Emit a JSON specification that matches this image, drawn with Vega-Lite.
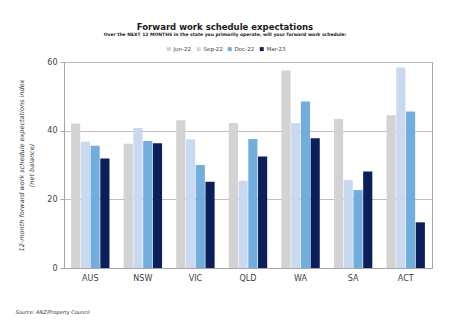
{
  "$schema": "https://vega.github.io/schema/vega-lite/v6.json",
  "width": 368,
  "height": 206,
  "autosize": {"type": "none"},
  "padding": {"left": 64, "top": 62, "right": 18, "bottom": 60},
  "background": "white",
  "title": {
    "text": "Forward work schedule expectations",
    "subtitle": "Over the NEXT 12 MONTHS in the state you primarily operate, will your forward work schedule:",
    "anchor": "middle",
    "dx": -23,
    "offset": 10,
    "font": "DejaVu Sans",
    "fontSize": 8.5,
    "fontWeight": "bold",
    "color": "#1a1a1a",
    "subtitleFont": "DejaVu Sans",
    "subtitleFontSize": 4.5,
    "subtitleFontWeight": "bold",
    "subtitleColor": "#1a1a1a",
    "subtitlePadding": 0
  },
  "data": {
    "values": [
      {"state": "AUS", "period": "Jun-22", "value": 42.1},
      {"state": "AUS", "period": "Sep-22", "value": 36.8},
      {"state": "AUS", "period": "Dec-22", "value": 35.6},
      {"state": "AUS", "period": "Mar-23", "value": 31.9},
      {"state": "NSW", "period": "Jun-22", "value": 36.2},
      {"state": "NSW", "period": "Sep-22", "value": 40.8},
      {"state": "NSW", "period": "Dec-22", "value": 37.0},
      {"state": "NSW", "period": "Mar-23", "value": 36.3},
      {"state": "VIC", "period": "Jun-22", "value": 43.0},
      {"state": "VIC", "period": "Sep-22", "value": 37.5},
      {"state": "VIC", "period": "Dec-22", "value": 30.0},
      {"state": "VIC", "period": "Mar-23", "value": 25.1},
      {"state": "QLD", "period": "Jun-22", "value": 42.2},
      {"state": "QLD", "period": "Sep-22", "value": 25.4},
      {"state": "QLD", "period": "Dec-22", "value": 37.6},
      {"state": "QLD", "period": "Mar-23", "value": 32.5},
      {"state": "WA", "period": "Jun-22", "value": 57.5},
      {"state": "WA", "period": "Sep-22", "value": 42.2},
      {"state": "WA", "period": "Dec-22", "value": 48.5},
      {"state": "WA", "period": "Mar-23", "value": 37.8},
      {"state": "SA", "period": "Jun-22", "value": 43.4},
      {"state": "SA", "period": "Sep-22", "value": 25.6},
      {"state": "SA", "period": "Dec-22", "value": 22.7},
      {"state": "SA", "period": "Mar-23", "value": 28.1},
      {"state": "ACT", "period": "Jun-22", "value": 44.5},
      {"state": "ACT", "period": "Sep-22", "value": 58.4},
      {"state": "ACT", "period": "Dec-22", "value": 45.6},
      {"state": "ACT", "period": "Mar-23", "value": 13.3}
    ]
  },
  "mark": {"type": "bar"},
  "encoding": {
    "x": {
      "field": "state",
      "type": "nominal",
      "sort": ["AUS", "NSW", "VIC", "QLD", "WA", "SA", "ACT"],
      "scale": {"paddingInner": 0.27, "paddingOuter": 0.135},
      "axis": {
        "title": "Source: ANZ/Property Council",
        "titleAnchor": "start",
        "titleAlign": "left",
        "titleX": -49,
        "titleY": 43,
        "titleBaseline": "middle",
        "titleFont": "DejaVu Sans",
        "titleFontSize": 5,
        "titleFontStyle": "italic",
        "titleFontWeight": "normal",
        "titleColor": "#333333",
        "labelAngle": 0,
        "labelFont": "DejaVu Sans",
        "labelFontSize": 8,
        "labelColor": "#404040",
        "labelPadding": 6,
        "ticks": false,
        "domainColor": "#a6a6a6",
        "grid": false
      }
    },
    "xOffset": {
      "field": "period",
      "type": "nominal",
      "sort": ["Jun-22", "Sep-22", "Dec-22", "Mar-23"],
      "scale": {"paddingInner": 0.06, "paddingOuter": 0}
    },
    "y": {
      "field": "value",
      "type": "quantitative",
      "scale": {"domain": [0, 60]},
      "axis": {
        "title": ["12-month forward work schedule expectations index", "(net balance)"],
        "titleFont": "DejaVu Sans",
        "titleFontSize": 6.5,
        "titleFontStyle": "italic",
        "titleFontWeight": "normal",
        "titleColor": "#404040",
        "titleLineHeight": 10,
        "titlePadding": 12,
        "values": [0, 20, 40, 60],
        "labelFont": "DejaVu Sans",
        "labelFontSize": 8,
        "labelColor": "#404040",
        "labelPadding": 3,
        "tickSize": 4,
        "tickColor": "#a6a6a6",
        "domainColor": "#a6a6a6",
        "gridColor": "#bfbfbf",
        "gridWidth": 1
      }
    },
    "color": {
      "field": "period",
      "type": "nominal",
      "sort": ["Jun-22", "Sep-22", "Dec-22", "Mar-23"],
      "scale": {
        "domain": ["Jun-22", "Sep-22", "Dec-22", "Mar-23"],
        "range": ["#d3d3d3", "#c9daf0", "#72aedd", "#0b1f5b"]
      },
      "legend": {
        "title": null,
        "orient": "none",
        "legendX": 102,
        "legendY": -16,
        "direction": "horizontal",
        "symbolType": "square",
        "symbolSize": 16,
        "symbolStrokeWidth": 0,
        "labelFont": "DejaVu Sans",
        "labelFontSize": 5.5,
        "labelColor": "#404040",
        "columnPadding": 4,
        "labelOffset": 2
      }
    }
  },
  "config": {
    "view": {"stroke": "#a6a6a6", "strokeWidth": 1}
  }
}
